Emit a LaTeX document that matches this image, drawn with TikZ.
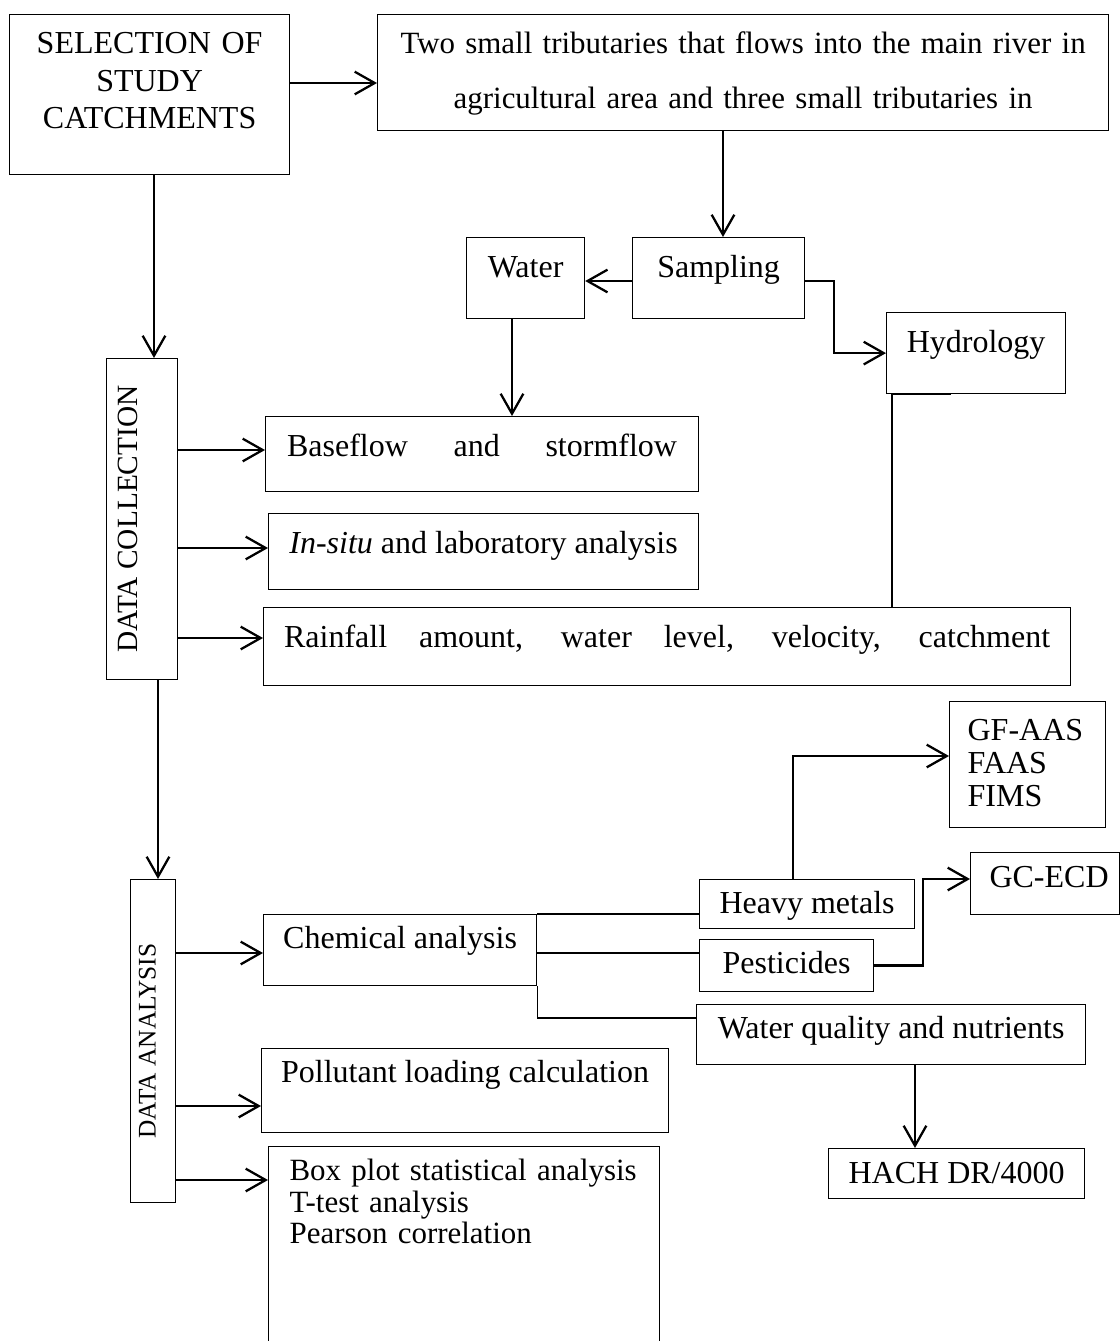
\documentclass[tikz,border=0pt]{standalone}
\usepackage{fontspec}
\setmainfont{Liberation Serif}
\usepackage{graphicx}
\usepackage{tikz}
\usetikzlibrary{arrows.meta}

\begin{document}
\begin{tikzpicture}[x=0.375pt, y=-0.375pt,
        stage/.style={draw, line width=0.45pt, inner ysep=0pt, anchor=north west, font=\fontsize{12}{14}\selectfont},
        flow/.style={line width=0.85pt, -{Straight Barb[length=7.5pt,width=8.5pt]}},
        feed/.style={line width=0.85pt},
        link/.style={line width=0.45pt}]
        \useasboundingbox (0,0) rectangle (1120,1341);

        % top row
        \node[stage, minimum width=105pt, text width=102pt, inner xsep=1.5pt, align=center, text height=14.625pt, text depth=45.375pt, font=\fontsize{12}{14.1}\selectfont] (sel) at (9,14) {SELECTION OF\\ STUDY\\ CATCHMENTS};
        \node[stage, minimum width=274.125pt, text width=268.125pt, inner xsep=3pt, align=center, text height=14.625pt, text depth=28.875pt, font=\fontsize{11.6}{20.6}\selectfont] (trib) at (377,14) {Two small tributaries that flows into the main river in\\ agricultural area and three small tributaries in};

        \node[stage, minimum width=64.5pt, text height=15pt, text depth=15.375pt] (samp) at (632,237) {Sampling};
        \node[stage, minimum width=44.25pt, text height=15pt, text depth=15.375pt] (water) at (466,237) {Water};
        \node[stage, minimum width=67.125pt, text height=15pt, text depth=15.375pt] (hydro) at (886,312) {Hydrology};

        % data collection
        \node[stage, inner sep=0pt, minimum height=120.375pt, font=\fontsize{11}{13}\selectfont] (collect) at (106,358) {\rotatebox{90}{\raisebox{0pt}[11.625pt][15pt]{DATA COLLECTION}}};
        \node[stage, minimum width=162.375pt, text height=15pt, text depth=13.125pt] (base) at (265,416) {\makebox[146.25pt][s]{Baseflow and stormflow}};
        \node[stage, minimum width=161.25pt, text height=15pt, text depth=13.5pt] (insitu) at (268,513) {\textit{In-situ} and laboratory analysis};
        \node[stage, minimum width=302.625pt, text height=15pt, text depth=14.25pt] (rain) at (263,607) {\makebox[287.25pt][s]{Rainfall amount, water level, velocity, catchment}};

        % data analysis
        \node[stage, inner sep=0pt, minimum height=121.125pt, font=\fontsize{9.5}{11}\selectfont] (anal) at (130,879) {\rotatebox{90}{\raisebox{0pt}[9.375pt][7.5pt]{DATA ANALYSIS}}};
        \node[stage, minimum width=102.375pt, text height=12.75pt, text depth=13.875pt] (chem) at (263,914) {Chemical analysis};
        \node[stage, minimum width=152.625pt, text height=12.75pt, text depth=18.75pt] (pollut) at (261,1048) {Pollutant loading calculation};
        \node[stage, minimum width=146.625pt, text width=130.875pt, inner xsep=7.875pt, align=left, text height=12.75pt, text depth=62.25pt, font=\fontsize{11.6}{11.8}\selectfont] (boxplot) at (268,1146) {\mbox{Box plot statistical analysis}\\ T-test analysis\\ Pearson correlation};

        \node[stage, minimum width=80.625pt, text height=12.75pt, text depth=5.625pt] (heavy) at (699,879) {Heavy metals};
        \node[stage, minimum width=65.25pt, text height=12.75pt, text depth=6.75pt] (pest) at (699,939) {Pesticides};
        \node[stage, minimum width=145.875pt, text height=12.75pt, text depth=9.75pt] (wq) at (696,1004) {Water quality and nutrients};
        \node[stage, minimum width=58.5pt, text width=45pt, inner xsep=6.75pt, align=left, text height=14.625pt, text depth=32.625pt, font=\fontsize{12}{12.4}\selectfont] (gf) at (949,701) {GF-AAS\\ FAAS\\ FIMS};
        \node[stage, minimum width=55.875pt, text height=13.125pt, text depth=10.125pt] (gc) at (970,852) {\hspace{3pt}GC-ECD};
        \node[stage, minimum width=96pt, text height=13.125pt, text depth=5.625pt] (hach) at (828,1148) {HACH DR/4000};

        % connectors
        \draw[flow] (sel.east |- 0,83) -- (trib.west |- 0,83);
        \draw[flow] (sel.south -| 154,0) -- (collect.north -| 154,0);
        \draw[flow] (trib.south -| 723,0) -- (samp.north -| 723,0);
        \draw[flow] (samp.west |- 0,281) -- (water.east |- 0,281);
        \draw[flow] (samp.east |- 0,281) -- ++(29,0) |- (hydro.west);
        \draw[flow] (water.south -| 512,0) -- (base.north -| 512,0);
        \draw[feed] (hydro.south -| 951,0) -- (hydro.south -| 892,0) -- (rain.north -| 892,0);

        \foreach \y/\t in {450/base, 548/insitu, 638/rain}
            \draw[flow] (collect.east |- 0,\y) -- (\t.west |- 0,\y);
        \draw[flow] (collect.south -| 158,0) -- (anal.north -| 158,0);
        \foreach \y/\t in {953/chem, 1106/pollut, 1180/boxplot}
            \draw[flow] (anal.east |- 0,\y) -- (\t.west |- 0,\y);

        \draw[link] (chem.north east) -- (heavy.west |- chem.north east);
        \draw[link] (chem.east |- 0,953) -- (pest.west |- 0,953);
        \draw[link] (chem.south east) |- (wq.west |- 0,1018);

        \draw[flow] (heavy.north -| 793,0) |- (gf.west |- 0,756);
        \draw[flow] (pest.east) -- ++(49,0) |- (gc.west |- 0,879);
        \draw[flow] (wq.south -| 915,0) -- (hach.north -| 915,0);
    \end{tikzpicture}
\end{document}
